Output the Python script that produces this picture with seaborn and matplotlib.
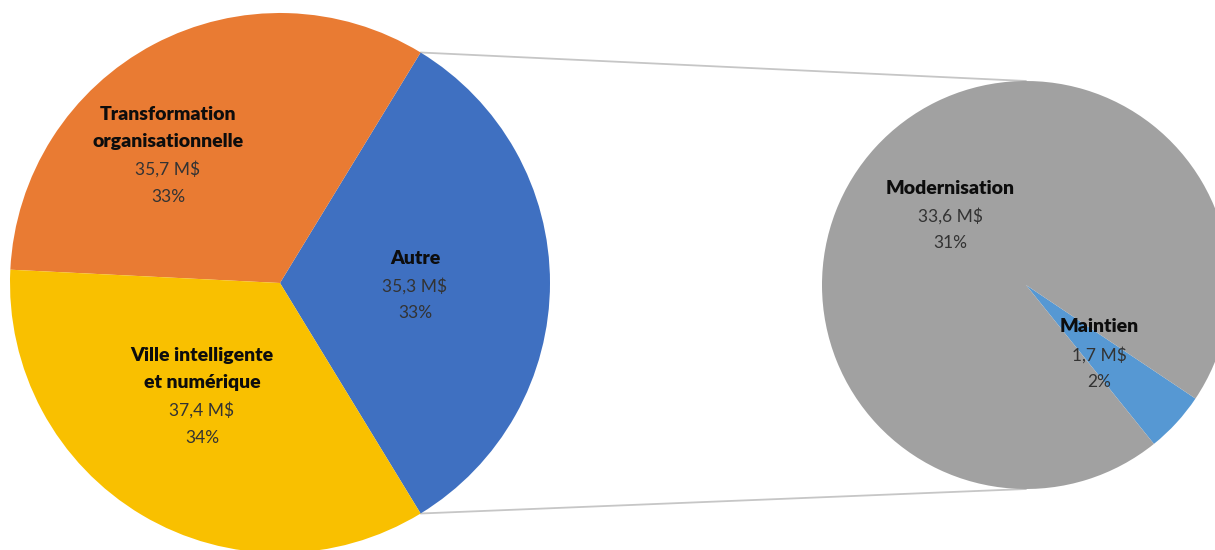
import numpy as np
import matplotlib
matplotlib.use("Agg")
import matplotlib.pyplot as plt
import seaborn as sns

# Budget split (M$); "Autre" is broken down in the secondary pie
main_names = ["Autre", "Transformation\norganisationnelle", "Ville intelligente\net numérique"]
sub_names = ["Maintien", "Modernisation"]
sub_values = [1.7, 33.6]
main_values = [round(sum(sub_values), 1), 35.7, 37.4]
main_pcts = [33, 33, 34]
sub_pcts = [2, 31]

main_colors = ["#3F70C1", "#E97B33", "#F9C000"]
sub_colors = ["#5698D3", "#A1A1A1"]

sns.set_theme(style="white")
plt.rcParams["font.family"] = ["Lato", "DejaVu Sans"]

W, H = 1215, 550
fig = plt.figure(figsize=(W / 100, H / 100), dpi=100)
ax = fig.add_axes([0, 0, 1, 1])

main_c, main_r = (280, H - 283), 270
sub_c, sub_r = (1026, H - 285), 204

# Primary pie: "Autre" centred on the right-hand side
autre_angle = 360 * main_values[0] / sum(main_values)
ax.pie(main_values, colors=main_colors, center=main_c, radius=main_r,
       startangle=-autre_angle / 2, counterclock=True,
       wedgeprops=dict(linewidth=0), frame=True)

# Secondary pie: detail of "Autre"
maint_angle = 360 * sub_values[0] / sum(sub_values)
ax.pie(sub_values, colors=sub_colors, center=sub_c, radius=sub_r,
       startangle=-42.5 - maint_angle / 2, counterclock=True,
       wedgeprops=dict(linewidth=0), frame=True)

# Connector lines from the edges of "Autre" to the top and bottom of the detail pie
a = np.deg2rad(autre_angle / 2)
top_pt = (main_c[0] + main_r * np.cos(a), main_c[1] + main_r * np.sin(a))
bot_pt = (main_c[0] + main_r * np.cos(a), main_c[1] - main_r * np.sin(a))
ax.plot([top_pt[0], sub_c[0]], [top_pt[1], sub_c[1] + sub_r], color="#C6C6C6", lw=1.3, zorder=0)
ax.plot([bot_pt[0], sub_c[0]], [bot_pt[1], sub_c[1] - sub_r], color="#C6C6C6", lw=1.3, zorder=0)


def fmt_money(v):
    return f"{v:.1f}".replace(".", ",") + " M$"


def draw_label(x, y_top, name, value, pct, step=27.7):
    lines = name.split("\n")
    y = H - y_top
    for ln in lines:
        ax.text(x, y, ln, ha="center", va="center", fontsize=14,
                fontweight="heavy", color="#0D0D0D")
        y -= step
    ax.text(x, y, fmt_money(value), ha="center", va="center", fontsize=12.5, color="#333333")
    y -= step
    ax.text(x, y, f"{pct}%", ha="center", va="center", fontsize=12.5, color="#333333")


label_pos_main = [(415, 258), (168, 114), (202, 355)]
for (x, y), n, v, p in zip(label_pos_main, main_names, main_values, main_pcts):
    draw_label(x, y, n, v, p)

label_pos_sub = [(1099, 327), (950, 188)]
for (x, y), n, v, p in zip(label_pos_sub, sub_names, sub_values, sub_pcts):
    draw_label(x, y, n, v, p)

ax.set_xlim(0, W)
ax.set_ylim(0, H)
ax.set_aspect("equal")
ax.axis("off")

fig.savefig("out.png", dpi=100, facecolor="white")
